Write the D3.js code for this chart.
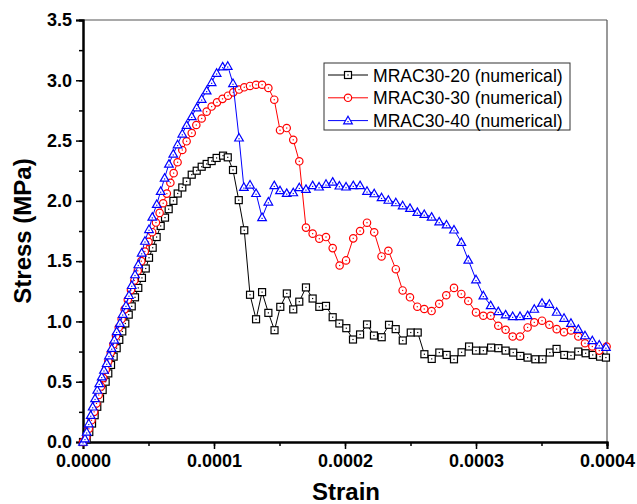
<!DOCTYPE html>
<html><head><meta charset="utf-8">
<script src="https://cdn.jsdelivr.net/npm/d3@7/dist/d3.min.js"></script>
<style>body{margin:0;background:#fff}svg{display:block}text{font-family:"Liberation Sans",Arial,sans-serif}</style>
</head><body><svg id="c" width="637" height="504"></svg>
<script>
const xTicks = [0, 0.0001, 0.0002, 0.0003, 0.0004];
const xTickLabels = ["0.0000", "0.0001", "0.0002", "0.0003", "0.0004"];
const yTicks = [0, 0.5, 1.0, 1.5, 2.0, 2.5, 3.0, 3.5];
const yTickLabels = ["0.0", "0.5", "1.0", "1.5", "2.0", "2.5", "3.0", "3.5"];
const seriesNames = ["MRAC30-20 (numerical)", "MRAC30-30 (numerical)", "MRAC30-40 (numerical)"];

const strain20 = [0,0.028e-4,0.048e-4,0.069e-4,0.089e-4,0.109e-4,0.130e-4,0.150e-4,0.173e-4,0.193e-4,0.214e-4,0.234e-4,0.257e-4,0.277e-4,0.300e-4,0.323e-4,0.349e-4,0.372e-4,0.397e-4,0.422e-4,0.450e-4,0.479e-4,0.504e-4,0.532e-4,0.562e-4,0.593e-4,0.626e-4,0.654e-4,0.690e-4,0.723e-4,0.758e-4,0.791e-4,0.830e-4,0.868e-4,0.906e-4,0.944e-4,0.982e-4,1.020e-4,1.069e-4,1.105e-4,1.145e-4,1.189e-4,1.231e-4,1.275e-4,1.321e-4,1.367e-4,1.415e-4,1.462e-4,1.506e-4,1.556e-4,1.605e-4,1.651e-4,1.702e-4,1.753e-4,1.804e-4,1.855e-4,1.906e-4,1.957e-4,2.010e-4,2.061e-4,2.115e-4,2.168e-4,2.221e-4,2.280e-4,2.336e-4,2.387e-4,2.441e-4,2.502e-4,2.555e-4,2.606e-4,2.662e-4,2.720e-4,2.776e-4,2.832e-4,2.890e-4,2.947e-4,3.000e-4,3.056e-4,3.115e-4,3.171e-4,3.226e-4,3.284e-4,3.338e-4,3.394e-4,3.453e-4,3.508e-4,3.564e-4,3.615e-4,3.674e-4,3.725e-4,3.781e-4,3.837e-4,3.891e-4,3.947e-4,3.992e-4];
const stress20 = [0,0.022,0.083,0.153,0.222,0.292,0.361,0.431,0.50,0.569,0.639,0.708,0.778,0.847,0.917,0.983,1.056,1.125,1.20,1.278,1.361,1.439,1.528,1.611,1.70,1.792,1.861,1.931,2.0,2.061,2.111,2.161,2.217,2.25,2.283,2.306,2.33,2.356,2.375,2.361,2.256,2.006,1.756,1.221,1.018,1.243,1.071,0.927,1.121,1.232,1.10,1.164,1.282,1.19,1.121,1.129,1.035,0.983,0.944,0.85,0.892,0.975,0.883,0.869,0.972,0.936,0.842,0.908,0.908,0.728,0.689,0.742,0.722,0.686,0.744,0.792,0.758,0.758,0.783,0.778,0.758,0.742,0.714,0.70,0.686,0.686,0.742,0.772,0.722,0.717,0.75,0.736,0.722,0.708,0.70];

const strain30 = [0,0.025e-4,0.045e-4,0.065e-4,0.085e-4,0.103e-4,0.12e-4,0.138e-4,0.155e-4,0.174e-4,0.193e-4,0.212e-4,0.232e-4,0.252e-4,0.273e-4,0.295e-4,0.318e-4,0.342e-4,0.366e-4,0.392e-4,0.418e-4,0.445e-4,0.472e-4,0.500e-4,0.528e-4,0.557e-4,0.585e-4,0.612e-4,0.64e-4,0.667e-4,0.692e-4,0.722e-4,0.758e-4,0.791e-4,0.830e-4,0.865e-4,0.906e-4,0.944e-4,0.982e-4,1.023e-4,1.065e-4,1.107e-4,1.147e-4,1.191e-4,1.231e-4,1.275e-4,1.321e-4,1.367e-4,1.415e-4,1.46e-4,1.504e-4,1.555e-4,1.605e-4,1.651e-4,1.702e-4,1.753e-4,1.804e-4,1.855e-4,1.906e-4,1.959e-4,2.008e-4,2.063e-4,2.115e-4,2.168e-4,2.223e-4,2.279e-4,2.331e-4,2.388e-4,2.44e-4,2.496e-4,2.552e-4,2.605e-4,2.661e-4,2.719e-4,2.773e-4,2.832e-4,2.888e-4,2.941e-4,3.0e-4,3.056e-4,3.112e-4,3.17e-4,3.226e-4,3.28e-4,3.336e-4,3.394e-4,3.445e-4,3.504e-4,3.56e-4,3.616e-4,3.672e-4,3.725e-4,3.781e-4,3.832e-4,3.888e-4,3.941e-4,3.997e-4];
const stress30 = [0,0.04,0.11,0.18,0.25,0.32,0.39,0.46,0.53,0.60,0.67,0.74,0.81,0.88,0.95,1.02,1.10,1.18,1.26,1.34,1.42,1.50,1.58,1.66,1.74,1.82,1.90,1.98,2.06,2.15,2.23,2.32,2.422,2.494,2.563,2.629,2.683,2.74,2.782,2.817,2.846,2.872,2.90,2.923,2.942,2.953,2.963,2.963,2.936,2.839,2.586,2.604,2.506,2.328,1.778,1.728,1.686,1.70,1.608,1.464,1.506,1.689,1.75,1.819,1.739,1.539,1.586,1.433,1.257,1.20,1.122,1.103,1.086,1.146,1.217,1.278,1.228,1.169,1.075,1.047,1.047,0.964,0.931,0.875,0.875,0.95,0.992,1.006,0.972,0.936,0.911,0.925,0.875,0.819,0.792,0.758,0.792];

const strain40 = [0,0.015e-4,0.028e-4,0.044e-4,0.059e-4,0.074e-4,0.092e-4,0.109e-4,0.124e-4,0.143e-4,0.16e-4,0.181e-4,0.198e-4,0.219e-4,0.239e-4,0.257e-4,0.282e-4,0.303e-4,0.328e-4,0.351e-4,0.372e-4,0.397e-4,0.422e-4,0.448e-4,0.473e-4,0.504e-4,0.529e-4,0.563e-4,0.593e-4,0.623e-4,0.656e-4,0.689e-4,0.722e-4,0.758e-4,0.791e-4,0.830e-4,0.868e-4,0.906e-4,0.944e-4,0.982e-4,1.020e-4,1.066e-4,1.105e-4,1.145e-4,1.191e-4,1.228e-4,1.275e-4,1.321e-4,1.367e-4,1.415e-4,1.46e-4,1.504e-4,1.555e-4,1.605e-4,1.651e-4,1.702e-4,1.753e-4,1.802e-4,1.855e-4,1.906e-4,1.957e-4,2.008e-4,2.063e-4,2.115e-4,2.168e-4,2.223e-4,2.279e-4,2.331e-4,2.388e-4,2.44e-4,2.496e-4,2.552e-4,2.605e-4,2.661e-4,2.719e-4,2.775e-4,2.832e-4,2.888e-4,2.941e-4,3.0e-4,3.056e-4,3.112e-4,3.17e-4,3.226e-4,3.28e-4,3.336e-4,3.394e-4,3.445e-4,3.504e-4,3.56e-4,3.616e-4,3.672e-4,3.725e-4,3.781e-4,3.832e-4,3.888e-4,3.941e-4,3.992e-4];
const stress40 = [0,0.028,0.083,0.153,0.222,0.292,0.361,0.431,0.486,0.542,0.597,0.653,0.717,0.778,0.847,0.917,0.986,1.061,1.133,1.217,1.30,1.389,1.472,1.569,1.667,1.764,1.867,1.972,2.08,2.19,2.306,2.389,2.467,2.556,2.628,2.70,2.773,2.844,2.914,2.983,3.06,3.113,3.118,2.975,2.523,2.114,2.133,2.063,1.863,1.992,2.128,2.086,2.064,2.069,2.111,2.097,2.128,2.117,2.139,2.157,2.125,2.117,2.128,2.128,2.081,2.061,2.028,2.007,1.986,1.961,1.939,1.906,1.889,1.867,1.827,1.802,1.76,1.657,1.51,1.347,1.214,1.133,1.083,1.056,1.042,1.042,1.05,1.103,1.153,1.144,1.078,1.028,0.986,0.936,0.883,0.842,0.806,0.786];

const series = [
  {name: seriesNames[0], x: strain20, y: stress20, color: "#000000", shape: "square"},
  {name: seriesNames[1], x: strain30, y: stress30, color: "#ff0000", shape: "circle"},
  {name: seriesNames[2], x: strain40, y: stress40, color: "#0000ff", shape: "triangle"}
];

const svg = d3.select("#c");
const L = 83, R = 607, T = 20, B = 442;
const x = d3.scaleLinear().domain([0, 0.0004]).range([L, R]);
const y = d3.scaleLinear().domain([0, 3.5]).range([B, T]);

svg.append("line").attr("x1", L).attr("x2", R).attr("y1", T).attr("y2", T).attr("stroke", "#555").attr("stroke-width", 1.2);
svg.append("line").attr("x1", R).attr("x2", R).attr("y1", T).attr("y2", B).attr("stroke", "#555").attr("stroke-width", 1.2);

const xMinor = d3.range(0, 9).map(i => i * 0.00005);
const yMinor = d3.range(0, 15).map(i => i * 0.25);
const xAxisG = svg.append("g").attr("transform", `translate(0,${B})`)
  .call(d3.axisBottom(x).tickValues(xMinor).tickSize(4).tickFormat(""));
const yAxisG = svg.append("g").attr("transform", `translate(${L},0)`)
  .call(d3.axisLeft(y).tickValues(yMinor).tickSize(4).tickFormat(""));
const xAx = svg.append("g").attr("transform", `translate(0,${B})`)
  .call(d3.axisBottom(x).tickValues(xTicks).tickSize(7).tickPadding(5).tickFormat((d, i) => xTickLabels[i]));
const yAx = svg.append("g").attr("transform", `translate(${L},0)`)
  .call(d3.axisLeft(y).tickValues(yTicks).tickSize(7).tickPadding(4).tickFormat((d, i) => yTickLabels[i]));
[xAxisG, yAxisG, xAx, yAx].forEach(g => {
  g.select(".domain").attr("stroke", "#000").attr("stroke-width", 2);
  g.selectAll(".tick line").attr("stroke", "#000").attr("stroke-width", 1.5);
});
[xAx, yAx].forEach(g => g.selectAll(".tick text").attr("font-size", 18).attr("font-weight", "bold").attr("fill", "#000").style("font-family", "'Liberation Sans', Arial, sans-serif"));

svg.append("text").attr("x", 346).attr("y", 500).attr("text-anchor", "middle")
  .attr("font-size", 24).attr("font-weight", "bold").text("Strain");
svg.append("text").attr("transform", `translate(31,${(T + B) / 2}) rotate(-90)`).attr("text-anchor", "middle")
  .attr("font-size", 24).attr("font-weight", "bold").text("Stress (MPa)");

function drawMarker(g, shape, cx, cy, color) {
  if (shape === "square") {
    g.append("rect").attr("x", cx - 3.5).attr("y", cy - 3.5).attr("width", 7).attr("height", 7)
      .attr("fill", "#fff").attr("stroke", color).attr("stroke-width", 1.2);
  } else if (shape === "circle") {
    g.append("circle").attr("cx", cx).attr("cy", cy).attr("r", 3.7)
      .attr("fill", "#fff").attr("stroke", color).attr("stroke-width", 1.2);
  } else {
    const h = 4.3;
    g.append("path").attr("d", `M${cx},${cy - h}L${cx + h},${cy + h * 0.75}L${cx - h},${cy + h * 0.75}Z`)
      .attr("fill", "#fff").attr("stroke", color).attr("stroke-width", 1.2);
  }
  g.append("rect").attr("x", cx - 0.6).attr("y", cy - 0.6 + (shape === "triangle" ? 1 : 0)).attr("width", 1.2).attr("height", 1.2).attr("fill", color);
}

const line = d3.line().x(d => x(d[0])).y(d => y(d[1]));
series.forEach(s => {
  const pts = s.x.map((v, i) => [v, s.y[i]]);
  const g = svg.append("g");
  g.append("path").datum(pts).attr("d", line).attr("fill", "none").attr("stroke", s.color).attr("stroke-width", 1);
  pts.forEach(p => drawMarker(g, s.shape, x(p[0]), y(p[1]), s.color));
});

const lg = svg.append("g");
lg.append("rect").attr("x", 324).attr("y", 63).attr("width", 246).attr("height", 67)
  .attr("fill", "#fff").attr("stroke", "#333").attr("stroke-width", 1);
series.forEach((s, i) => {
  const ry = 75 + i * 22.8;
  lg.append("line").attr("x1", 328).attr("x2", 368).attr("y1", ry).attr("y2", ry).attr("stroke", s.color).attr("stroke-width", 1);
  drawMarker(lg, s.shape, 348, ry, s.color);
  lg.append("text").attr("x", 373).attr("y", ry + 6.5).attr("font-size", 17.6).attr("fill", "#000").text(s.name);
});
</script></body></html>
